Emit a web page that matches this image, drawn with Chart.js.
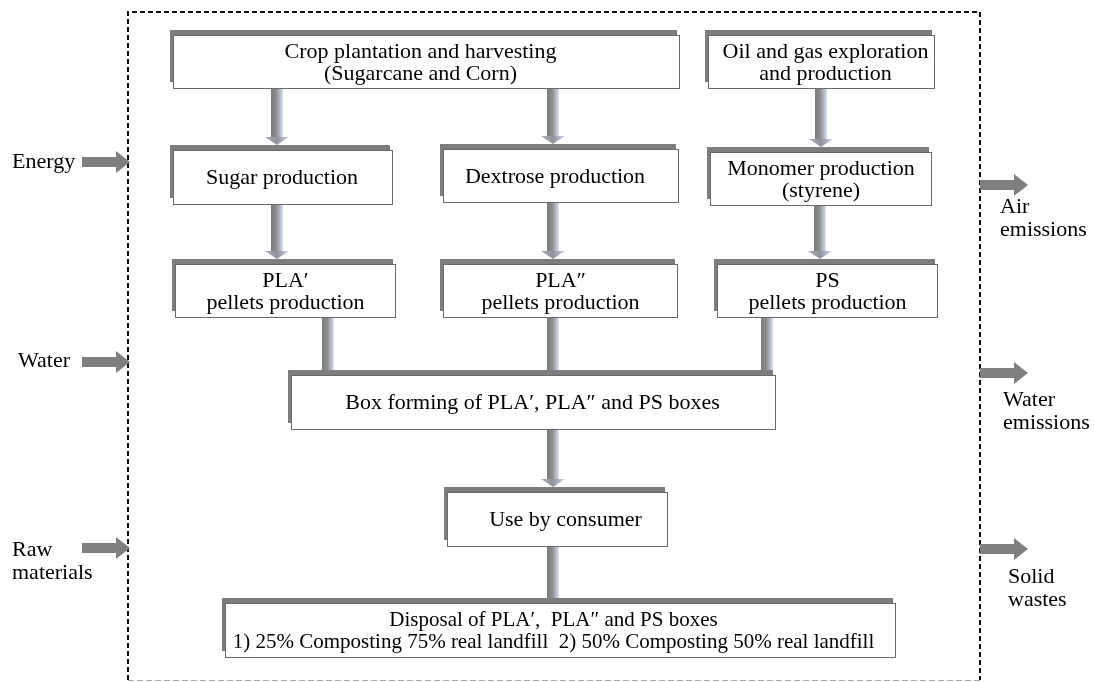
<!DOCTYPE html>
<html>
<head>
<meta charset="utf-8">
<script src="https://cdn.jsdelivr.net/npm/chart.js@4/dist/chart.umd.min.js"></script>
<style>
html,body{margin:0;padding:0;background:#fff;}
#wrap{width:1094px;height:682px;position:relative;}
</style>
</head>
<body>
<div id="wrap"><canvas id="c" width="1094" height="682"></canvas></div>
<script>
// ---- content (text of each process step) ----
const nodeLabels = [
  ["Crop plantation and harvesting", "(Sugarcane and Corn)"],
  ["Oil and gas exploration", "and production"],
  ["Sugar production"],
  ["Dextrose production"],
  ["Monomer production", "(styrene)"],
  ["PLA\u2032", "pellets production"],
  ["PLA\u2033", "pellets production"],
  ["PS", "pellets production"],
  ["Box forming of PLA\u2032, PLA\u2033 and PS boxes"],
  ["Use by consumer"],
  ["Disposal of PLA\u2032,  PLA\u2033 and PS boxes", "1) 25% Composting 75% real landfill  2) 50% Composting 50% real landfill"]
];
// flow links: [from, to, hasHead]
const links = [
  [0, 2, true], [0, 3, true], [1, 4, true],
  [2, 5, true], [3, 6, true], [4, 7, true],
  [5, 8, false], [6, 8, false], [7, 8, false],
  [8, 9, true], [9, 10, false]
];
const inputLabels = [["Energy"], ["Water"], ["Raw", "materials"]];
const outputLabels = [["Air", "emissions"], ["Water", "emissions"], ["Solid", "wastes"]];

// ---- layout (in diagram units, mapped through chart scales) ----
const nodeBoxes = [
  [173, 35, 680, 89], [708, 35, 935, 89],
  [173, 150, 393, 205], [443, 149, 679, 203], [710, 152, 932, 206],
  [175, 264, 396, 318], [443, 264, 678, 318], [717, 264, 938, 318],
  [291, 375, 776, 430], [447, 492, 668, 547], [225, 603, 896, 658]
];
const nodeTextDx = [-6, 4, -1, -6, 0, 0, 0, 0, -1, 8, -7];
const linkX = [277, 553, 821, 277, 553, 820, 328, 553, 767, 553, 553];
const inputY = [162, 362, 548];
const inputTextPos = [[12, 162], [18, 361], [12, 550]];
const outputY = [185, 373, 549];
const outputTextPos = [[1000, 207], [1003, 400], [1008, 577]];
const frame = [128, 12, 980, 680];

const flowPlugin = {
  id: 'flow',
  afterDraw(chart) {
    const ctx = chart.ctx, xs = chart.scales.x, ys = chart.scales.y;
    const X = v => xs.getPixelForValue(v), Y = v => ys.getPixelForValue(v);
    ctx.save();
    // frame
    ctx.lineWidth = 2;
    ctx.strokeStyle = '#111';
    ctx.setLineDash([5, 3]);
    ctx.beginPath();
    ctx.moveTo(X(frame[0]), Y(frame[3]));
    ctx.lineTo(X(frame[0]), Y(frame[1]));
    ctx.lineTo(X(frame[2]), Y(frame[1]));
    ctx.lineTo(X(frame[2]), Y(frame[3]));
    ctx.stroke();
    ctx.lineWidth = 1;
    ctx.strokeStyle = '#aaa';
    ctx.setLineDash([6, 3]);
    ctx.beginPath();
    ctx.moveTo(X(frame[0]), Y(frame[3]) + 0.5);
    ctx.lineTo(X(frame[2]), Y(frame[3]) + 0.5);
    ctx.stroke();
    ctx.setLineDash([]);

    // vertical flow arrows
    links.forEach((l, i) => {
      const a = nodeBoxes[l[0]], b = nodeBoxes[l[1]];
      const cx = X(linkX[i]);
      const y0 = Y(a[3]), y1 = Y(b[1]) - 5;
      const hw = 6, headH = l[2] ? 8 : 0;
      const g = ctx.createLinearGradient(cx - hw, 0, cx + hw, 0);
      g.addColorStop(0, '#7a7a7a');
      g.addColorStop(0.45, '#8e8e8e');
      g.addColorStop(0.75, '#b4b9c8');
      g.addColorStop(1, '#dde3f3');
      ctx.fillStyle = g;
      ctx.fillRect(cx - hw, y0, hw * 2, y1 - y0 - headH);
      if (l[2]) {
        const g2 = ctx.createLinearGradient(cx - 12, 0, cx + 12, 0);
        g2.addColorStop(0, '#a9adb8');
        g2.addColorStop(0.5, '#8f939c');
        g2.addColorStop(1, '#cfd6ea');
        ctx.fillStyle = g2;
        ctx.beginPath();
        ctx.moveTo(cx - 12, y1 - headH);
        ctx.lineTo(cx + 12, y1 - headH);
        ctx.lineTo(cx, y1);
        ctx.closePath();
        ctx.fill();
      }
    });

    // boxes
    nodeBoxes.forEach((b, i) => {
      const x0 = X(b[0]), y0 = Y(b[1]), x1 = X(b[2]), y1 = Y(b[3]);
      ctx.fillStyle = '#7d7d7d';
      ctx.fillRect(x0 - 3, y0 - 5, x1 - x0, y1 - y0 - 2);
      ctx.fillStyle = '#fff';
      ctx.fillRect(x0, y0, x1 - x0, y1 - y0);
      ctx.strokeStyle = '#6a6a6a';
      ctx.lineWidth = 1;
      ctx.strokeRect(x0 + 0.5, y0 + 0.5, x1 - x0 - 1, y1 - y0 - 1);
      const lines = nodeLabels[i];
      const size = i === 10 ? 21 : 22;
      ctx.font = size + 'px "Liberation Serif", "Times New Roman", serif';
      ctx.fillStyle = '#000';
      ctx.textAlign = 'center';
      ctx.textBaseline = 'middle';
      const cx = (x0 + x1) / 2 + nodeTextDx[i];
      const cy = (y0 + y1) / 2 + 1;
      const lh = 22;
      const top = cy - (lines.length - 1) * lh / 2;
      lines.forEach((t, k) => ctx.fillText(t, cx, top + k * lh));
    });

    // side arrows
    function hArrow(xa, yc) {
      const x = X(xa), y = Y(yc);
      ctx.fillStyle = '#7f7f7f';
      ctx.fillRect(x, y - 5, 35, 10);
      ctx.beginPath();
      ctx.moveTo(x + 34, y - 11);
      ctx.lineTo(x + 48, y);
      ctx.lineTo(x + 34, y + 11);
      ctx.closePath();
      ctx.fill();
    }
    inputY.forEach(v => hArrow(82, v));
    outputY.forEach(v => hArrow(980, v));

    ctx.font = '22px "Liberation Serif", "Times New Roman", serif';
    ctx.fillStyle = '#000';
    ctx.textAlign = 'left';
    ctx.textBaseline = 'middle';
    inputLabels.forEach((ls, i) => ls.forEach((t, k) =>
      ctx.fillText(t, X(inputTextPos[i][0]), Y(inputTextPos[i][1]) + k * 23)));
    outputLabels.forEach((ls, i) => ls.forEach((t, k) =>
      ctx.fillText(t, X(outputTextPos[i][0]), Y(outputTextPos[i][1]) + k * 23)));
    ctx.restore();
  }
};

new Chart(document.getElementById('c'), {
  type: 'scatter',
  data: { datasets: [{ data: [], pointRadius: 0 }] },
  options: {
    responsive: false,
    animation: false,
    events: [],
    layout: { padding: 0 },
    plugins: { legend: { display: false }, tooltip: { enabled: false } },
    scales: {
      x: { type: 'linear', min: 0, max: 1094, display: false },
      y: { type: 'linear', min: 0, max: 682, reverse: true, display: false }
    }
  },
  plugins: [flowPlugin]
});
</script>
</body>
</html>
